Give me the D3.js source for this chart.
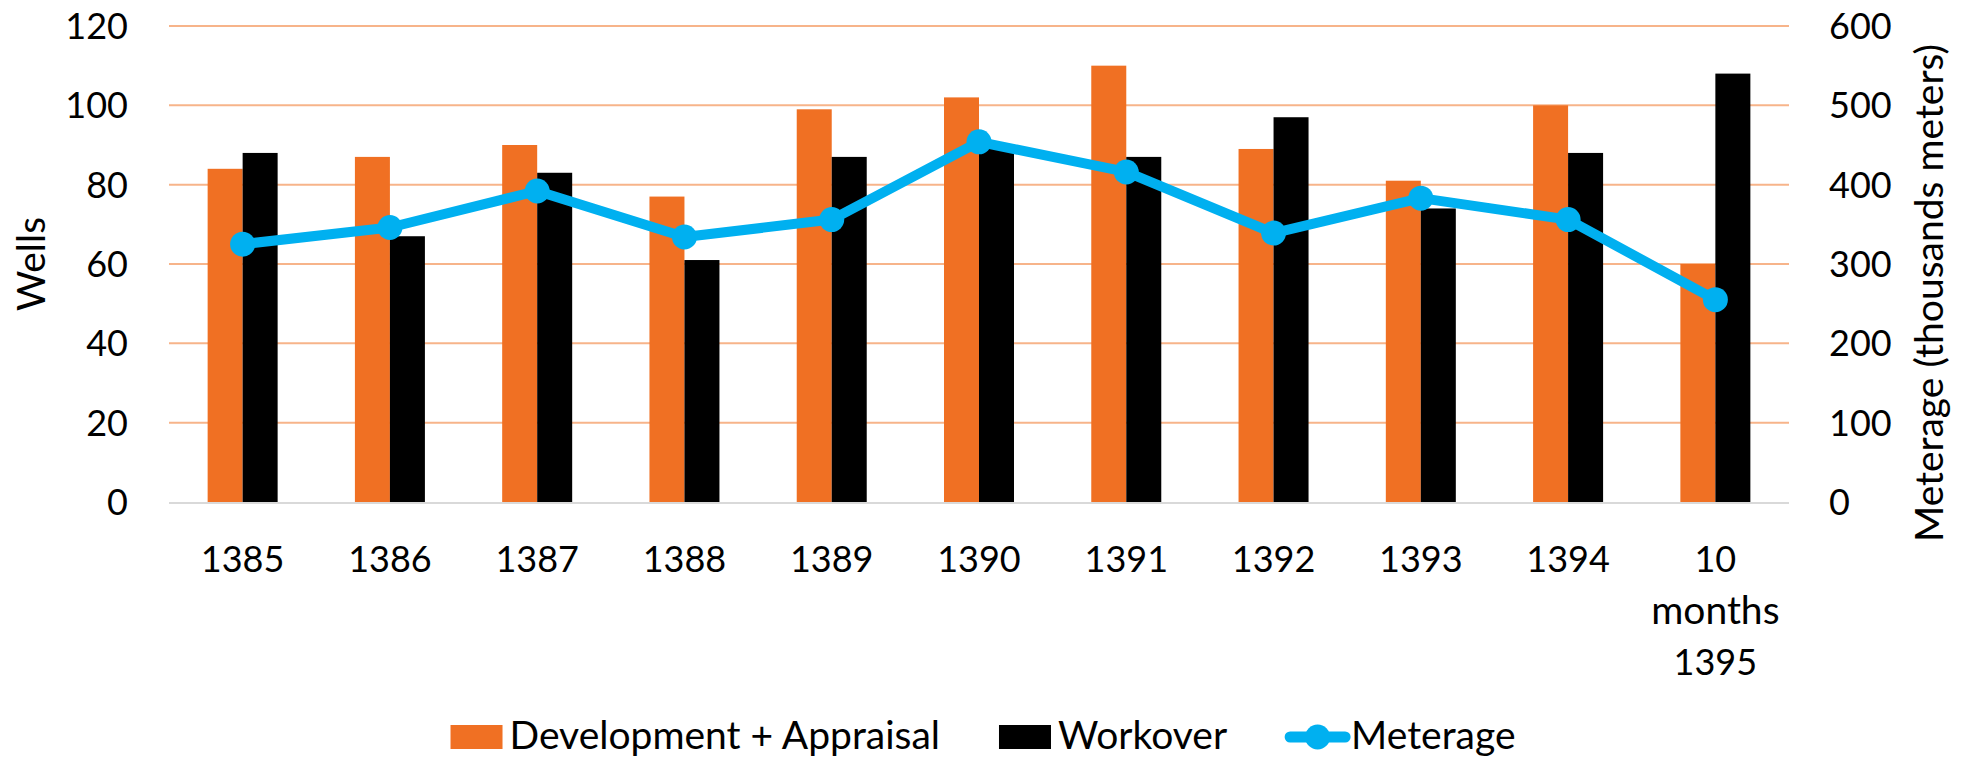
<!DOCTYPE html>
<html>
<head>
<meta charset="utf-8">
<script src="https://cdn.jsdelivr.net/npm/d3@7/dist/d3.min.js"></script>
<style>
  body { margin: 0; background: #fff; }
  svg text { font-family: Lato, "Open Sans", sans-serif; fill: #000; }
</style>
</head>
<body>
<div id="chart"></div>
<script>
// chart data
const years = ['1385', '1386', '1387', '1388', '1389', '1390', '1391', '1392', '1393', '1394', '10 months 1395'];
const development = [84, 87, 90, 77, 99, 102, 110, 89, 81, 100, 60];
const workover = [88, 67, 83, 61, 87, 89, 87, 97, 74, 88, 108];
const meterage = [325, 346, 392, 334, 356, 454, 416, 339, 383, 356, 255];
const wellTicks = [0, 20, 40, 60, 80, 100, 120];
const meterTicks = [0, 100, 200, 300, 400, 500, 600];
const seriesNames = ['Development + Appraisal', 'Workover', 'Meterage'];

const width = 1970;
const height = 759;
const numSize = 36;   // digits
const wordSize = 39;  // words (Lato letters run narrower than the original font)
const plot = { left: 169, right: 1789, top: 26, bottom: 502 };
const colors = { dev: '#F07023', work: '#000000', meter: '#00B0F0', grid: '#F7B48A', base: '#D9D9D9' };

const svg = d3.select('#chart')
  .append('svg')
  .attr('width', width)
  .attr('height', height);

const x = d3.scaleBand()
  .domain(years)
  .range([plot.left, plot.right])
  .padding(0);

const xInner = d3.scaleBand()
  .domain(['dev', 'work'])
  .range([0, x.bandwidth()])
  .paddingInner(0)
  .paddingOuter(1.104);

const yLeft = d3.scaleLinear()
  .domain([0, 120])
  .range([plot.bottom, plot.top]);

const yRight = d3.scaleLinear()
  .domain([0, 600])
  .range([plot.bottom, plot.top]);

// gridlines
svg.append('g')
  .selectAll('line')
  .data(wellTicks.filter(d => d > 0))
  .enter()
  .append('line')
  .attr('x1', plot.left)
  .attr('x2', plot.right)
  .attr('y1', d => yLeft(d))
  .attr('y2', d => yLeft(d))
  .attr('stroke', colors.grid)
  .attr('stroke-width', 2);

// bars
const rows = years.map((y, i) => ({ year: y, dev: development[i], work: workover[i] }));

const groups = svg.append('g')
  .selectAll('g')
  .data(rows)
  .enter()
  .append('g')
  .attr('transform', d => `translate(${x(d.year)},0)`);

groups.selectAll('rect')
  .data(d => ['dev', 'work'].map(k => ({ key: k, value: d[k] })))
  .enter()
  .append('rect')
  .attr('x', d => xInner(d.key))
  .attr('width', xInner.bandwidth())
  .attr('y', d => yLeft(d.value))
  .attr('height', d => plot.bottom - yLeft(d.value))
  .attr('fill', d => colors[d.key]);

// baseline
svg.append('line')
  .attr('x1', plot.left)
  .attr('x2', plot.right)
  .attr('y1', plot.bottom + 1)
  .attr('y2', plot.bottom + 1)
  .attr('stroke', colors.base)
  .attr('stroke-width', 2);

// meterage line
const cx = (d, i) => x(years[i]) + x.bandwidth() / 2;
const line = d3.line()
  .x(cx)
  .y(d => yRight(d));

svg.append('path')
  .datum(meterage)
  .attr('d', line)
  .attr('fill', 'none')
  .attr('stroke', colors.meter)
  .attr('stroke-width', 10)
  .attr('stroke-linejoin', 'round');

svg.append('g')
  .selectAll('circle')
  .data(meterage)
  .enter()
  .append('circle')
  .attr('cx', cx)
  .attr('cy', d => yRight(d))
  .attr('r', 12.5)
  .attr('fill', colors.meter);

// left axis labels
svg.append('g')
  .selectAll('text')
  .data(wellTicks)
  .enter()
  .append('text')
  .attr('x', 128)
  .attr('y', d => yLeft(d))
  .attr('dy', '0.36em')
  .attr('text-anchor', 'end')
  .style('font-size', `${numSize}px`)
  .text(d => d);

// right axis labels
svg.append('g')
  .selectAll('text')
  .data(meterTicks)
  .enter()
  .append('text')
  .attr('x', 1829)
  .attr('y', d => yRight(d))
  .attr('dy', '0.36em')
  .attr('text-anchor', 'start')
  .style('font-size', `${numSize}px`)
  .text(d => d);

// category labels, wrapped on spaces
const catLabels = svg.append('g')
  .selectAll('text')
  .data(years)
  .enter()
  .append('text')
  .attr('text-anchor', 'middle');

catLabels.selectAll('tspan')
  .data(d => d.split(' ').map(w => ({ w, x: x(d) + x.bandwidth() / 2 })))
  .enter()
  .append('tspan')
  .attr('x', d => d.x)
  .attr('y', (d, i) => 572 + i * 51.5)
  .style('font-size', d => (/^\d+$/.test(d.w) ? numSize : wordSize) + 'px')
  .text(d => d.w);

// axis titles
svg.append('text')
  .attr('transform', `translate(${45},${(plot.top + plot.bottom) / 2}) rotate(-90)`)
  .attr('text-anchor', 'middle')
  .style('font-size', `${wordSize}px`)
  .text('Wells');

svg.append('text')
  .attr('transform', `translate(${1943},${293}) rotate(-90)`)
  .attr('text-anchor', 'middle')
  .style('font-size', `${wordSize}px`)
  .text('Meterage (thousands meters)');

// legend
const legend = svg.append('g');
let lx = 0;
seriesNames.forEach((name, i) => {
  const item = legend.append('g').attr('transform', `translate(${lx},0)`);
  let iconW;
  if (i < 2) {
    iconW = 52;
    item.append('rect')
      .attr('x', 0)
      .attr('y', 725)
      .attr('width', 52)
      .attr('height', 24)
      .attr('fill', i === 0 ? colors.dev : colors.work);
  } else {
    iconW = 63;
    item.append('line')
      .attr('x1', 4)
      .attr('x2', 59)
      .attr('y1', 737)
      .attr('y2', 737)
      .attr('stroke', colors.meter)
      .attr('stroke-width', 11)
      .attr('stroke-linecap', 'round');
    item.append('circle')
      .attr('cx', 31.5)
      .attr('cy', 737)
      .attr('r', 12.5)
      .attr('fill', colors.meter);
  }
  const t = item.append('text')
    .attr('x', iconW + (i < 2 ? 7 : 2))
    .attr('y', 749)
    .style('font-size', `${wordSize}px`)
    .text(name);
  lx += iconW + (i < 2 ? 7 : 2) + t.node().getComputedTextLength() + 59;
});
const legendW = lx - 59;
legend.attr('transform', `translate(${983 - legendW / 2},0)`);
</script>
</body>
</html>
